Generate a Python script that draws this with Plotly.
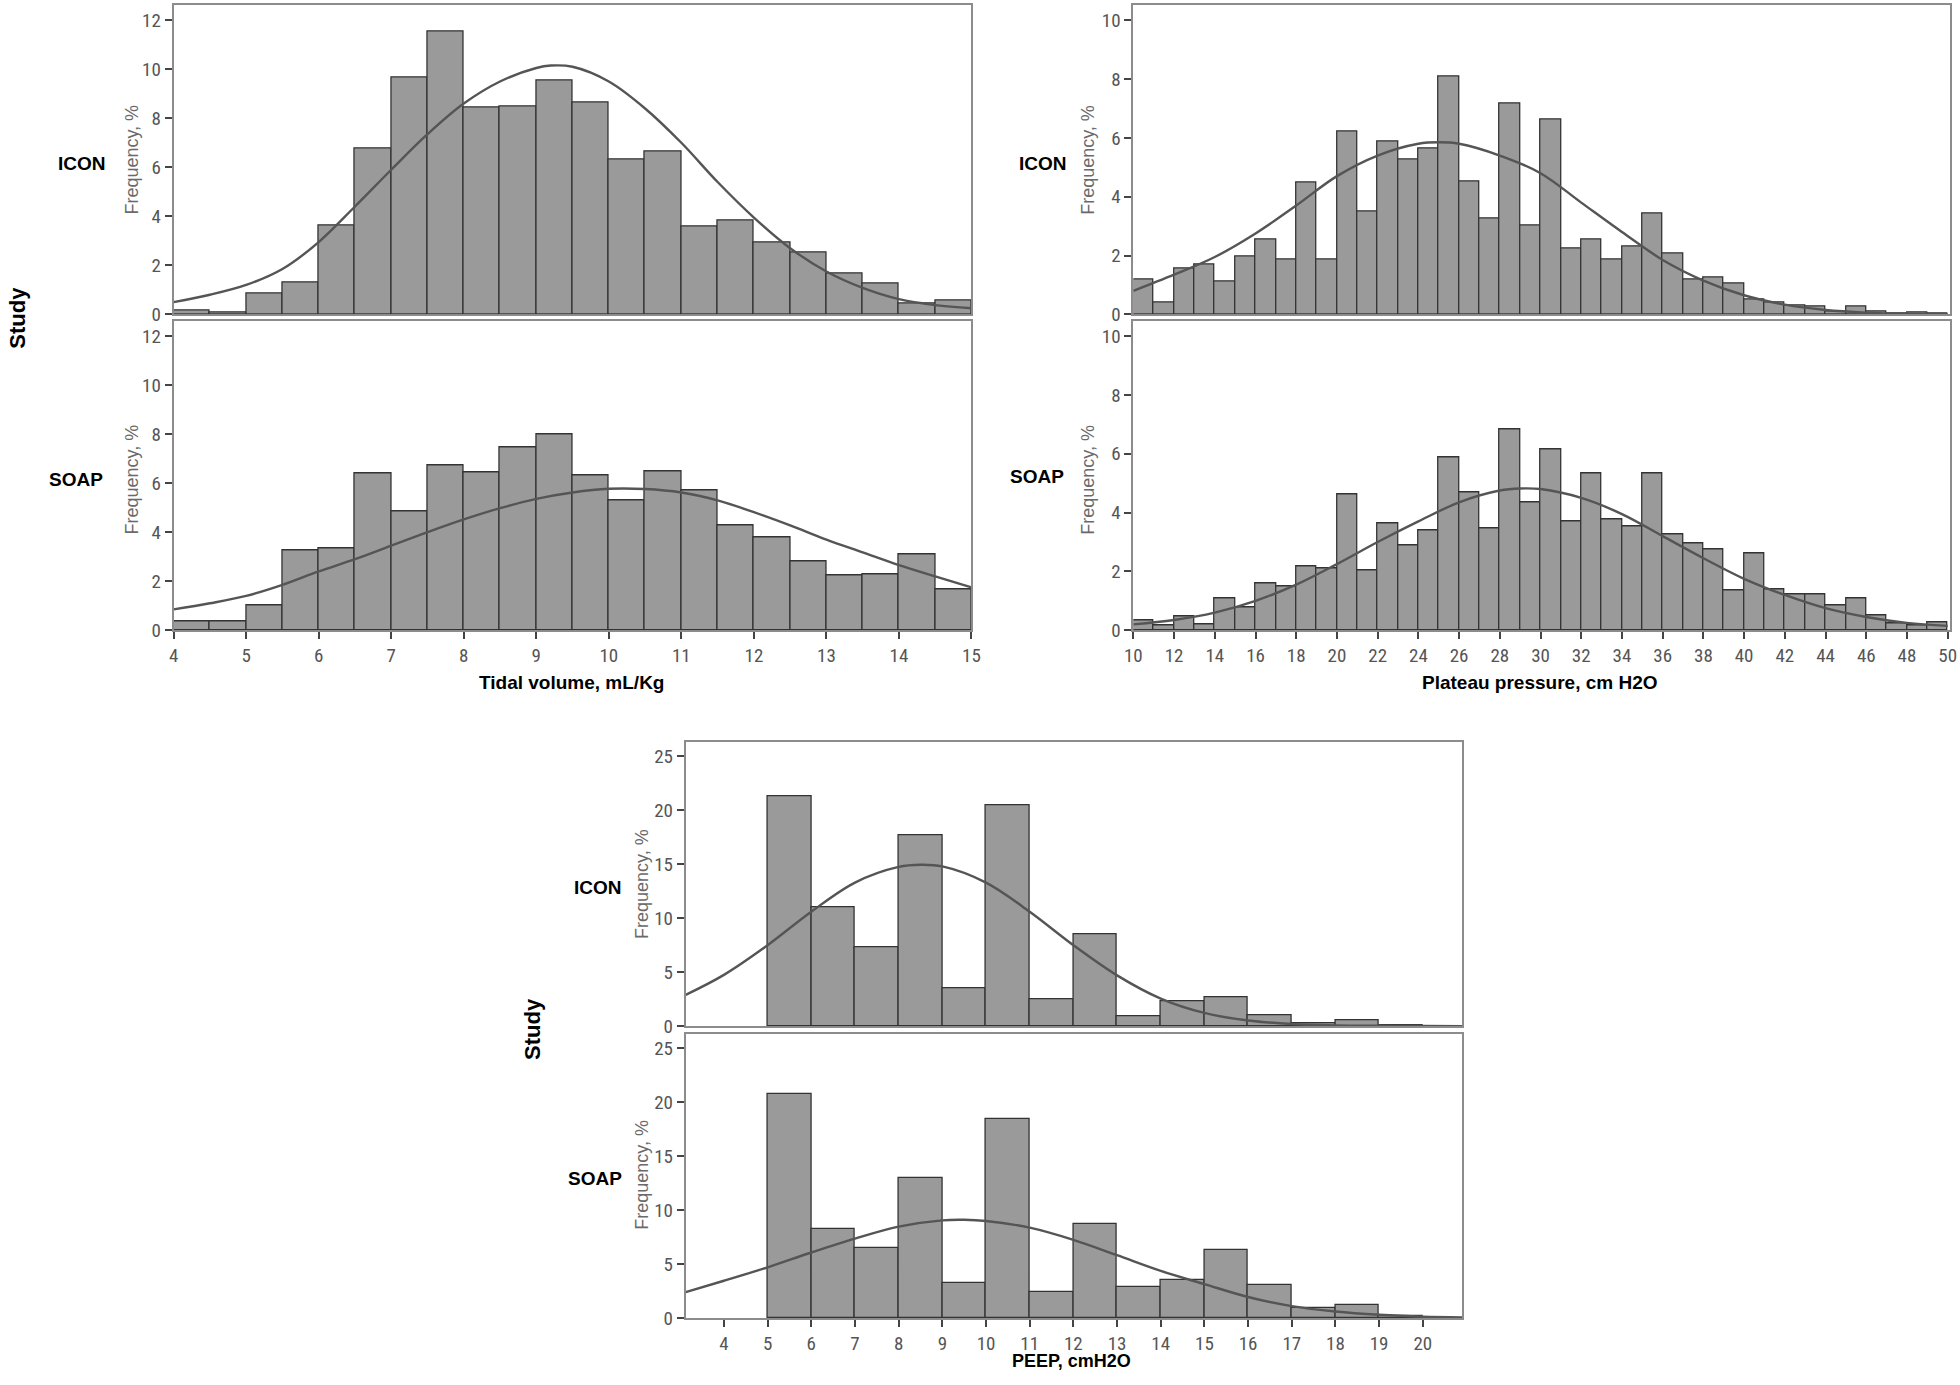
import plotly.graph_objects as go

W, H = 1960, 1385

# ---------------- data ----------------
# Tidal volume, bins of 0.5 from 4 to 15
tv_edges_start = [4.0, 4.5, 5.0, 5.5, 6.0, 6.5, 7.0, 7.5, 8.0, 8.5, 9.0, 9.5,
                  10.0, 10.5, 11.0, 11.5, 12.0, 12.5, 13.0, 13.5, 14.0, 14.5]
tv_icon = [0.16, 0.08, 0.86, 1.32, 3.63, 6.75, 9.65, 11.55, 8.45, 8.48, 9.54, 8.63,
           6.3, 6.64, 3.57, 3.85, 2.92, 2.51, 1.67, 1.28, 0.43, 0.57]
tv_soap = [0.35, 0.38, 1.01, 3.25, 3.36, 6.38, 4.87, 6.74, 6.44, 7.48, 7.99, 6.33,
           5.28, 6.49, 5.72, 4.28, 3.78, 2.81, 2.22, 2.26, 3.11, 1.68]
tv_curve_x = [4.0, 4.5, 5.0, 5.5, 6.0, 6.5, 7.0, 7.5, 8.0, 8.5, 9.0, 9.2, 9.5, 10.0,
              10.5, 11.0, 11.5, 12.0, 12.5, 13.0, 13.5, 14.0, 14.5, 15.0]
tv_icon_curve = [0.5, 0.8, 1.2, 1.85, 2.95, 4.4, 5.9, 7.35, 8.6, 9.5, 10.05, 10.15, 10.1, 9.5,
                 8.4, 7.0, 5.4, 3.95, 2.7, 1.75, 1.08, 0.62, 0.38, 0.25]
tv_soap_x = [4.0, 4.5, 5.0, 5.5, 6.0, 6.5, 7.0, 7.5, 8.0, 8.5, 9.0, 9.5, 10.0, 10.5,
             11.0, 11.5, 12.0, 12.5, 13.0, 13.5, 14.0, 14.5, 15.0]
tv_soap_curve = [0.85, 1.1, 1.4, 1.85, 2.4, 2.9, 3.45, 4.0, 4.52, 4.98, 5.36, 5.62, 5.77, 5.76,
                 5.62, 5.3, 4.82, 4.28, 3.7, 3.18, 2.66, 2.2, 1.75]

# Plateau pressure, bins of 1 from 10 to 50
pp_edges_start = list(range(10, 50))
pp_icon = [1.19, 0.39, 1.55, 1.71, 1.11, 1.97, 2.53, 1.86, 4.5, 1.86,
           6.21, 3.51, 5.89, 5.28, 5.63, 8.09, 4.53, 3.25, 7.18, 3.01,
           6.64, 2.24, 2.53, 1.86, 2.31, 3.44, 2.08, 1.2, 1.26, 1.04,
           0.51, 0.4, 0.3, 0.28, 0.11, 0.26, 0.11, 0.03, 0.07, 0.02]
pp_soap = [0.32, 0.15, 0.48, 0.2, 1.09, 0.77, 1.59, 1.5, 2.17, 2.1,
           4.63, 2.02, 3.62, 2.89, 3.41, 5.87, 4.69, 3.46, 6.82, 4.35,
           6.16, 3.7, 5.35, 3.76, 3.53, 5.35, 3.27, 2.96, 2.75, 1.37,
           2.6, 1.38, 1.23, 1.23, 0.86, 1.09, 0.52, 0.24, 0.18, 0.28]
pp_curve_x = [10, 12, 14, 16, 18, 20, 22, 24, 25, 26, 28, 30, 32, 34, 36, 38, 40, 42, 44, 46, 48, 50]
pp_icon_curve = [0.8, 1.35, 1.95, 2.75, 3.7, 4.7, 5.4, 5.8, 5.85, 5.8, 5.4, 4.8, 3.8, 2.8,
                 1.85, 1.15, 0.65, 0.33, 0.15, 0.06, 0.02, 0.01]
pp_soap_x = [10, 12, 14, 16, 18, 20, 22, 24, 26, 28, 29, 30, 32, 34, 36, 38, 40, 42, 44, 46, 48, 50]
pp_soap_curve = [0.2, 0.35, 0.6, 1.0, 1.55, 2.25, 3.0, 3.7, 4.35, 4.75, 4.82, 4.8, 4.5, 3.95,
                 3.2, 2.45, 1.75, 1.2, 0.75, 0.45, 0.25, 0.15]

# PEEP, bins of 1 from 5 to 20
pe_edges_start = list(range(5, 20))
pe_icon = [21.3, 10.97, 7.32, 17.65, 3.52, 20.43, 2.5, 8.47, 0.9, 2.32, 2.66, 1.05, 0.31, 0.53, 0.09]
pe_soap = [20.75, 8.28, 6.5, 12.93, 3.23, 18.38, 2.37, 8.68, 2.89, 3.48, 6.28, 3.05, 0.89, 1.2, 0.22]
pe_curve_x = [3.125, 4, 5, 6, 7, 8, 8.5, 9, 10, 11, 12, 13, 14, 15, 16, 17, 18, 19, 20, 20.9]
pe_icon_curve = [2.9, 4.75, 7.5, 10.6, 13.3, 14.75, 14.95, 14.8, 13.3, 10.6, 7.5, 4.7, 2.55,
                 1.22, 0.52, 0.2, 0.07, 0.03, 0.01, 0.0]
pe_soap_x = [3.125, 4, 5, 6, 7, 8, 9, 9.5, 10, 11, 12, 13, 14, 15, 16, 17, 18, 19, 20, 20.9]
pe_soap_curve = [2.4, 3.45, 4.7, 6.07, 7.36, 8.47, 9.05, 9.1, 8.99, 8.37, 7.24, 5.82, 4.37,
                 3.14, 1.95, 1.1, 0.6, 0.3, 0.12, 0.06]

studies = ["ICON", "SOAP"]
x_titles = ["Tidal volume, mL/Kg", "Plateau pressure, cm H2O", "PEEP, cmH2O"]

# ---------------- styling ----------------
BAR_FILL = "#9a9a9a"
BAR_EDGE = "#333333"
CURVE = "#555555"
FRAME = "#8c8c8c"
TICKFONT = dict(family="Liberation Sans Narrow, Roboto Condensed, Liberation Sans, Arial",
                size=19, color="#555555")
BOLD = "Liberation Sans, Arial"

# layout placement (measured on the reference, in its pixels) -> figure pixels
SX, OX = 0.9916, 7.75
SY, OY = 0.9917, -1.5
DB = -12   # small upward shift of the bottom chart so its axis title fits on the page


def fx(p):
    return (p - OX) / SX


def fy(p):
    return (p - OY) / SY


def px(p):
    return min(1.0, max(0.0, fx(p) / W))


def py(p):
    return min(1.0, max(0.0, 1 - fy(p) / H))


fig = go.Figure()

panels = [
    dict(starts=tv_edges_start, w=0.5, icon=tv_icon, soap=tv_soap,
         cxi=tv_curve_x, ci=tv_icon_curve, cxs=tv_soap_x, cs=tv_soap_curve,
         xd=(172.5, 971), yrng=12.6, dty=2, xr=(4, 15), dtx=1, t0=4,
         ydom_i=(4, 313), ydom_s=(320, 629)),
    dict(starts=pp_edges_start, w=1.0, icon=pp_icon, soap=pp_soap,
         cxi=pp_curve_x, ci=pp_icon_curve, cxs=pp_soap_x, cs=pp_soap_curve,
         xd=(1133, 1950), yrng=10.5, dty=2, xr=(10, 50.1), dtx=2, t0=10,
         ydom_i=(4, 313), ydom_s=(320, 629)),
    dict(starts=pe_edges_start, w=1.0, icon=pe_icon, soap=pe_soap,
         cxi=pe_curve_x, ci=pe_icon_curve, cxs=pe_soap_x, cs=pe_soap_curve,
         xd=(685, 1462), yrng=26.3, dty=5, xr=(3.125, 20.9), dtx=1, t0=4,
         ydom_i=(753 + DB, 1037 + DB), ydom_s=(1045 + DB, 1329 + DB)),
]

layout = dict(
    width=W, height=H, margin=dict(l=0, r=0, t=0, b=0),
    paper_bgcolor="white", plot_bgcolor="white", showlegend=False,
    bargap=0,
)

ax = 0
for p in panels:
    for si, (vals, cx, cy, ydom) in enumerate([
        (p["icon"], p["cxi"], p["ci"], p["ydom_i"]),
        (p["soap"], p["cxs"], p["cs"], p["ydom_s"]),
    ]):
        ax += 1
        xn = "x" if ax == 1 else f"x{ax}"
        yn = "y" if ax == 1 else f"y{ax}"
        centers = [s + p["w"] / 2 for s in p["starts"]]
        fig.add_trace(go.Bar(
            x=centers, y=vals, width=p["w"], xaxis=xn, yaxis=yn,
            marker=dict(color=BAR_FILL, line=dict(color=BAR_EDGE, width=1.3)),
            hoverinfo="x+y",
        ))
        fig.add_trace(go.Scatter(
            x=cx, y=cy, mode="lines", xaxis=xn, yaxis=yn,
            line=dict(color=CURVE, width=2.4, shape="spline", smoothing=1.0),
            hoverinfo="skip",
        ))
        is_bottom = si == 1
        xkey = "xaxis" if ax == 1 else f"xaxis{ax}"
        ykey = "yaxis" if ax == 1 else f"yaxis{ax}"
        layout[xkey] = dict(
            domain=[px(p["xd"][0]), px(p["xd"][1])], anchor=yn,
            range=list(p["xr"]), tick0=p["t0"], dtick=p["dtx"],
            showgrid=False, zeroline=False, showline=True, mirror=True,
            linecolor=FRAME, linewidth=2,
            ticks="outside" if is_bottom else "", ticklen=7, tickcolor="#444444", tickwidth=1.5,
            showticklabels=is_bottom, tickfont=TICKFONT,
        )
        layout[ykey] = dict(
            domain=[py(ydom[1]), py(ydom[0])], anchor=xn,
            range=[0, p["yrng"]], tick0=0, dtick=p["dty"],
            showgrid=False, zeroline=False, showline=True, mirror=True,
            linecolor=FRAME, linewidth=2,
            ticks="outside", ticklen=7, tickcolor="#444444", tickwidth=1.5,
            tickfont=TICKFONT,
        )

fig.update_layout(**layout)

# ---------------- annotations ----------------
ann = []


def add_text(x, y, text, font, angle=0, yanchor="middle"):
    ann.append(dict(x=px(x), y=py(y), xref="paper", yref="paper", text=text,
                    textangle=angle, showarrow=False, xanchor="center", yanchor=yanchor,
                    font=font))


# study labels
label_pos = [((81, 162), (75, 478)), ((1043, 162), (1037, 475)),
             ((597, 898 + DB), (594, 1189 + DB))]
for (pi, ps) in label_pos:
    for name, (lx, ly) in zip(studies, (pi, ps)):
        add_text(lx, ly, f"<b>{name}</b>", dict(family=BOLD, size=19, color="black"))

# "Frequency, %" labels
freq_pos = [(131, 158), (131, 478), (1088, 158), (1088, 478), (641, 895 + DB), (641, 1186 + DB)]
for qx, qy in freq_pos:
    add_text(qx, qy, "Frequency, %",
             dict(family="Liberation Sans Narrow, Liberation Sans, Arial", size=18, color="#6a6a6a"),
             angle=-90)

# Study axis labels
for sx, sy in [(16, 316), (531, 1040 + DB)]:
    add_text(sx, sy, "<b>Study</b>", dict(family=BOLD, size=22, color="black"), angle=-90)

# x titles
add_text(571, 681, f"<b>{x_titles[0]}</b>", dict(family=BOLD, size=19, color="black"))
add_text(1540, 681, f"<b>{x_titles[1]}</b>", dict(family=BOLD, size=19, color="black"))
add_text(1071, 1385, f"<b>{x_titles[2]}</b>", dict(family=BOLD, size=18, color="black"),
         yanchor="bottom")

fig.update_layout(annotations=ann)

# remove the default page margin so the figure fills the page exactly
fig.write_html("out.html", config={"displayModeBar": False},
               post_script="document.body.style.margin='0';document.body.style.overflow='hidden';")
